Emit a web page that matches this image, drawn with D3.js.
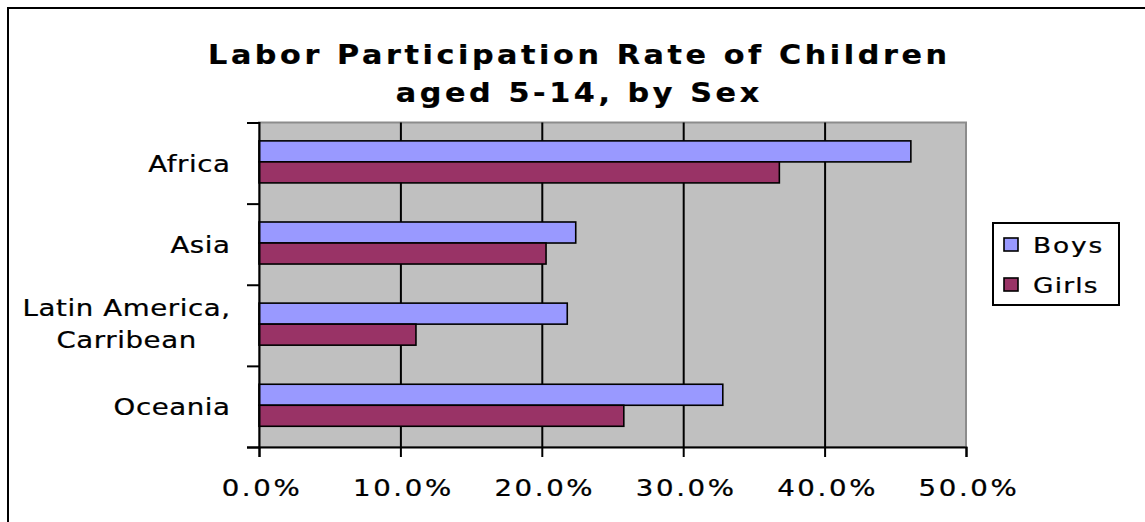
<!DOCTYPE html>
<html>
<head>
<meta charset="utf-8">
<script src="https://cdn.jsdelivr.net/npm/d3@7"></script>
<style>
  html, body { margin: 0; padding: 0; background: #fff; }
  svg { display: block; }
  text { stroke: #000; stroke-width: 0.25px; }
</style>
</head>
<body>
<svg id="chart" width="1145" height="522"></svg>
<script>
// ---- data ----
const titleLines = ["Labor Participation Rate of Children", "aged 5-14, by Sex"];
const categories = ["Africa", "Asia", "Latin America,\nCarribean", "Oceania"];
const seriesNames = ["Boys", "Girls"];
const boys = [46.1, 22.4, 21.8, 32.8];
const girls = [36.8, 20.3, 11.1, 25.8];
const xTickValues = [0, 10, 20, 30, 40, 50];
const seriesColors = ["#9999FF", "#993366"];

// ---- layout ----
const svg = d3.select("#chart");
const plot = { left: 259, right: 966, top: 122.5, bottom: 447 };
const font = "'DejaVu Sans', Verdana, sans-serif";
const SX = 1.2; // horizontal stretch of the glyphs

// move x/y into a transform so the glyphs can be widened around their anchor
function stretch(sel, sx, dxFix) {
  sel.each(function () {
    const t = d3.select(this);
    const tx = +t.attr("x") || 0, ty = +t.attr("y") || 0;
    t.attr("x", 0).attr("y", 0)
     .attr("transform", `translate(${tx + (dxFix || 0)},${ty}) scale(${sx},1)`);
  });
}

// outer chart border (right/bottom edges fall outside the picture)
svg.append("rect")
  .attr("x", 8).attr("y", 8).attr("width", 1400).attr("height", 800)
  .attr("fill", "#fff").attr("stroke", "#000").attr("stroke-width", 2);

const x = d3.scaleLinear().domain([0, 50]).range([plot.left, plot.right]);
const y = d3.scaleBand().domain(categories).range([plot.top, plot.bottom]);
const inner = d3.scaleBand().domain(seriesNames).range([0, y.bandwidth()])
  .paddingInner(0).paddingOuter(0.93).align(0.47);
const yIdx = d3.scaleLinear().domain([0, categories.length]).range([plot.top, plot.bottom]);

// plot area
svg.append("rect")
  .attr("x", plot.left).attr("y", plot.top)
  .attr("width", plot.right - plot.left).attr("height", plot.bottom - plot.top)
  .attr("fill", "#C0C0C0").attr("stroke", "#8c8c8c").attr("stroke-width", 2);

// gridlines
svg.append("g")
  .attr("transform", `translate(0,${plot.bottom})`)
  .call(d3.axisBottom(x).tickValues(xTickValues.slice(1, -1))
    .tickSize(-(plot.bottom - plot.top)).tickFormat(""))
  .call(g => g.select(".domain").remove())
  .call(g => g.selectAll("line").attr("stroke", "#000").attr("stroke-width", 2));

// bars
const rows = categories.map((c, i) => ({ c, vals: [boys[i], girls[i]] }));
const grp = svg.append("g").selectAll("g").data(rows).join("g")
  .attr("transform", d => `translate(0,${y(d.c)})`);
grp.selectAll("rect").data(d => d.vals.map((v, j) => ({ v, s: seriesNames[j], j })))
  .join("rect")
  .attr("x", x(0))
  .attr("y", d => inner(d.s))
  .attr("width", d => x(d.v) - x(0))
  .attr("height", inner.bandwidth())
  .attr("fill", d => seriesColors[d.j])
  .attr("stroke", "#000").attr("stroke-width", 1.6);

// x axis
const xAxis = svg.append("g")
  .attr("transform", `translate(0,${plot.bottom})`)
  .call(d3.axisBottom(x).tickValues(xTickValues).tickSize(10)
    .tickFormat(d => d.toFixed(1) + "%"));
xAxis.select(".domain").attr("stroke", "#000").attr("stroke-width", 2);
xAxis.selectAll("line").attr("stroke", "#000").attr("stroke-width", 2);
xAxis.selectAll("text")
  .attr("font-family", font).attr("font-size", 23).attr("fill", "#000")
  .style("letter-spacing", "2.2px")
  .attr("dy", 0).attr("x", 0).attr("y", 49)
  .call(s => stretch(s, SX, 2.5));

// y axis (ticks between categories)
const yAxis = svg.append("g")
  .attr("transform", `translate(${plot.left},0)`)
  .call(d3.axisLeft(yIdx).tickValues(d3.range(categories.length + 1)).tickSize(12).tickFormat(""));
yAxis.select(".domain").attr("stroke", "#000").attr("stroke-width", 2);
yAxis.selectAll("line").attr("stroke", "#000").attr("stroke-width", 2);

// category labels
const labelRight = 230, lineH = 32, capHalf = 8.5, catSpacing = 0.5;
categories.forEach(c => {
  const lines = c.split("\n");
  const g = svg.append("g");
  const texts = lines.map(l => g.append("text")
    .attr("font-family", font).attr("font-size", 23).attr("fill", "#000")
    .style("letter-spacing", catSpacing + "px")
    .attr("text-anchor", "middle").text(l));
  const widths = texts.map(t => (t.node().getBBox().width - catSpacing) * SX);
  const blockW = d3.max(widths);
  const cx = labelRight - blockW / 2;
  const cy = y(c) + y.bandwidth() / 2;
  texts.forEach((t, i) => {
    t.attr("x", cx + catSpacing * SX / 2)
     .attr("y", cy + capHalf + (i - (lines.length - 1) / 2) * lineH - (lines.length > 1 ? 1.5 : 0));
  });
  stretch(g.selectAll("text"), SX);
});

// title
titleLines.forEach((t, i) => {
  svg.append("text")
    .attr("x", 577.5 + 1.8).attr("y", 63.5 + i * 38.5)
    .attr("text-anchor", "middle")
    .attr("font-family", font).attr("font-weight", "bold").attr("font-size", 27)
    .style("letter-spacing", "3.2px")
    .attr("fill", "#000").text(t)
    .call(s => stretch(s, 1.12));
});

// legend
const legend = svg.append("g").attr("transform", "translate(993,223)");
legend.append("rect").attr("width", 126).attr("height", 82)
  .attr("fill", "#fff").attr("stroke", "#000").attr("stroke-width", 2);
const items = legend.selectAll("g.item").data(seriesNames).join("g")
  .attr("class", "item")
  .attr("transform", (d, i) => `translate(11,${15 + i * 40})`);
items.append("rect").attr("width", 14).attr("height", 13)
  .attr("fill", (d, i) => seriesColors[i]).attr("stroke", "#000").attr("stroke-width", 1.6);
items.append("text").attr("x", 29).attr("y", 14.5)
  .attr("font-family", font).attr("font-size", 22).attr("fill", "#000")
  .style("letter-spacing", (d, i) => i === 0 ? "1.6px" : "1px")
  .text(d => d)
  .call(s => stretch(s, SX));
</script>
</body>
</html>
